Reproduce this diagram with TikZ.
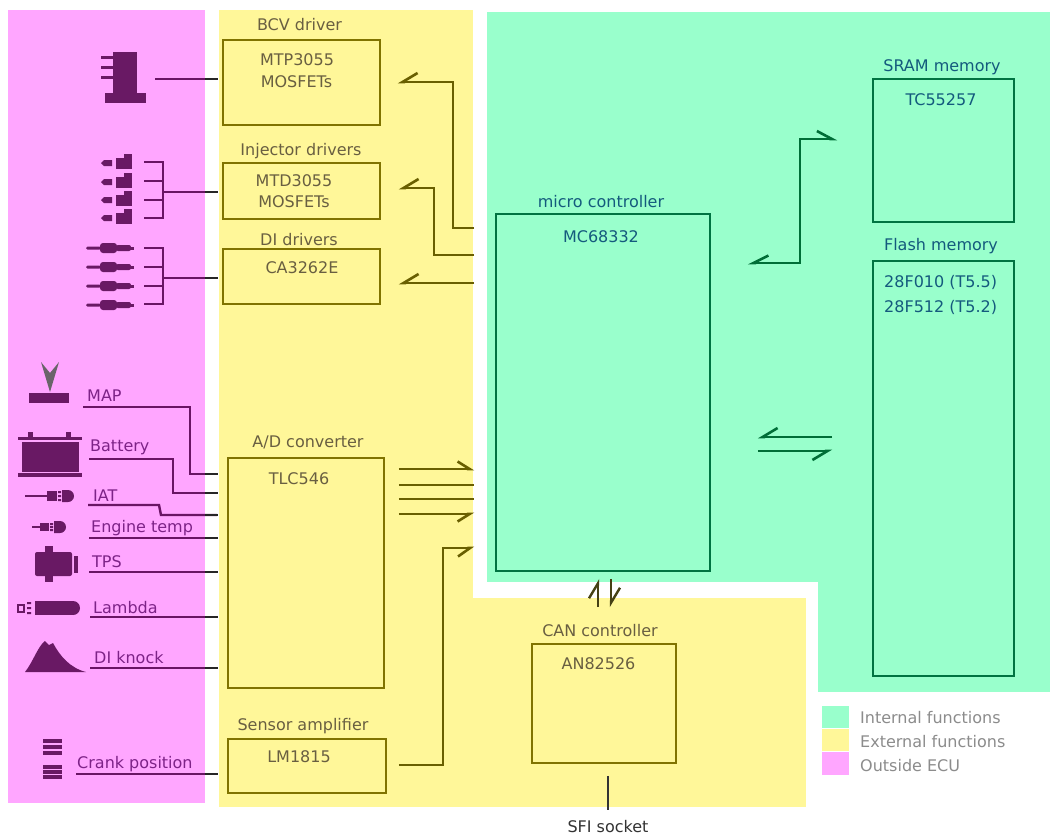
\documentclass[tikz,border=0pt]{standalone}
\usepackage{fontspec}
\setmainfont{DejaVu Sans}
\usetikzlibrary{arrows.meta}
\definecolor{pinkbg}{RGB}{255,166,255}
\definecolor{yellowbg}{RGB}{255,247,153}
\definecolor{greenbg}{RGB}{153,255,204}
\definecolor{boxolive}{RGB}{128,115,0}
\definecolor{lineolive}{RGB}{105,95,0}
\definecolor{boxgreen}{RGB}{0,115,65}
\definecolor{linegreen}{RGB}{0,110,55}
\definecolor{ytextc}{RGB}{105,95,65}
\definecolor{gtextc}{RGB}{20,90,125}
\definecolor{ptextc}{RGB}{125,35,135}
\definecolor{plinec}{RGB}{105,20,100}
\definecolor{iconc}{RGB}{105,25,100}
\definecolor{legendgray}{RGB}{140,140,140}
\definecolor{canline}{RGB}{70,65,20}
\definecolor{mapgray}{RGB}{105,100,105}
\tikzset{
  ybox/.style={draw=boxolive, line width=1.8pt, rectangle, inner sep=0pt},
  gbox/.style={draw=boxgreen, line width=1.8pt, rectangle, inner sep=0pt},
  ytext/.style={text=ytextc, anchor=base, inner sep=0pt},
  gtext/.style={text=gtextc, anchor=base, inner sep=0pt},
  ptext/.style={text=ptextc, anchor=base west, inner sep=0pt},
  ltext/.style={text=legendgray, anchor=base west, inner sep=0pt},
  yconn/.style={draw=lineolive, line width=2.6pt},
  gconn/.style={draw=linegreen, line width=2.6pt},
  cconn/.style={draw=canline, line width=2.4pt},
  pconn/.style={draw=plinec, line width=2.4pt},
  gapseg/.style={draw=black!85, line width=2.4pt},
  barbR/.style={-{Straight Barb[right,length=15pt,width=18pt]}},
  barbL/.style={-{Straight Barb[left,length=15pt,width=18pt]}},
}
\begin{document}
\begin{tikzpicture}[x=1pt,y=-1pt, font=\fontsize{16}{19}\selectfont]
\useasboundingbox (0,0) rectangle (1050,836);
\fill[white] (0,0) rectangle (1050,836);
% ---- regions
\fill[pinkbg] (8,10) rectangle (205,803);
\fill[yellowbg] (219,10) rectangle (473,807);
\fill[yellowbg] (219,598) rectangle (806,807);
\fill[greenbg] (487,12) rectangle (1050,582);
\fill[greenbg] (818,12) rectangle (1050,692);

% ---- yellow boxes
\node[ytext] (bcvT) at (299.5,30) {BCV driver};
\node[ybox, minimum width=157pt, minimum height=85pt] (bcv) at (301.5,82.5) {};
\node[ytext] at (297,65) {MTP3055};
\node[ytext] at (296.5,87) {MOSFETs};

\node[ytext] (injT) at (301,155) {Injector drivers};
\node[ybox, minimum width=157pt, minimum height=56pt] (inj) at (301.5,191) {};
\node[ytext] at (294,186) {MTD3055};
\node[ytext] at (294,207) {MOSFETs};

\node[ytext] (diT) at (299,245) {DI drivers};
\node[ybox, minimum width=157pt, minimum height=55pt] (di) at (301.5,276.5) {};
\node[ytext] at (302,273) {CA3262E};

\node[ytext] (adT) at (308,447) {A/D converter};
\node[ybox, minimum width=156pt, minimum height=230pt] (ad) at (306,573) {};
\node[ytext] at (299,484) {TLC546};

\node[ytext] (ampT) at (303,730) {Sensor amplifier};
\node[ybox, minimum width=158pt, minimum height=54pt] (amp) at (307,766) {};
\node[ytext] at (299,762) {LM1815};

\node[ytext] (canT) at (600,636) {CAN controller};
\node[ybox, minimum width=144pt, minimum height=119pt] (can) at (604,703.5) {};
\node[ytext] at (598.5,669) {AN82526};

\node[text=black!80, anchor=base, inner sep=0pt] (sfi) at (608,832) {SFI socket};

% ---- green boxes
\node[gtext] (mcT) at (601,207) {micro controller};
\node[gbox, minimum width=214pt, minimum height=357pt] (mc) at (603,392.5) {};
\node[gtext] at (601,242) {MC68332};

\node[gtext] (sramT) at (942,71) {SRAM memory};
\node[gbox, minimum width=141pt, minimum height=143pt] (sram) at (943.5,150.5) {};
\node[gtext] at (941,105) {TC55257};

\node[gtext] (flashT) at (941,250) {Flash memory};
\node[gbox, minimum width=141pt, minimum height=415pt] (flash) at (943.5,468.5) {};
\node[gtext, anchor=base west] at (884,287) {28F010 (T5.5)};
\node[gtext, anchor=base west] at (884,312) {28F512 (T5.2)};

% ---- micro controller -> drivers
\draw[yconn, barbR, shorten <=21pt, shorten >=17pt] (mc.west |- 0,228) -| (453,82) -- (bcv.east |- 0,82);
\draw[yconn, barbR, shorten <=21pt, shorten >=18pt] (mc.west |- 0,255) -| (434,188) -- (inj.east |- 0,188);
\draw[yconn, barbR, shorten <=21pt, shorten >=18pt] (mc.west |- 0,283) -- (di.east |- 0,283);

% ---- A/D -> micro controller
\draw[yconn, -{Straight Barb[left,length=12pt,width=15pt]}, shorten <=14pt, shorten >=21pt] (ad.east |- 0,469) -- (mc.west |- 0,469);
\draw[yconn, shorten <=14pt, shorten >=21pt] (ad.east |- 0,485) -- (mc.west |- 0,485);
\draw[yconn, shorten <=14pt, shorten >=21pt] (ad.east |- 0,499) -- (mc.west |- 0,499);
\draw[yconn, -{Straight Barb[right,length=12pt,width=15pt]}, shorten <=14pt, shorten >=21pt] (ad.east |- 0,514) -- (mc.west |- 0,514);

% ---- sensor amplifier -> micro controller
\draw[yconn, -{Straight Barb[right,length=12pt,width=17pt]}, shorten <=12pt, shorten >=21pt] (amp.east |- 0,765) -| (443,548) -- (mc.west |- 0,548);

% ---- micro controller <-> SRAM
\draw[gconn, {Straight Barb[right,length=15pt,width=15pt]}-{Straight Barb[left,length=15pt,width=16pt]}, shorten <=37pt, shorten >=35pt] (mc.east |- 0,263) -| (800,139) -- (sram.west |- 0,139);

% ---- micro controller <-> Flash
\draw[gconn, barbR, shorten <=40pt, shorten >=47pt] (flash.west |- 0,437) -- (mc.east |- 0,437);
\draw[gconn, barbR, shorten <=47pt, shorten >=40pt] (mc.east |- 0,451) -- (flash.west |- 0,451);

% ---- micro controller <-> CAN
\draw[cconn, -{Straight Barb[left,length=15pt,width=18pt]}, shorten <=36pt, shorten >=7pt] (can.north -| 598,0) -- (mc.south -| 598,0);
\draw[cconn, -{Straight Barb[left,length=15pt,width=18pt]}, shorten <=7pt, shorten >=36pt] (mc.south -| 611,0) -- (can.north -| 611,0);

% ---- CAN -> SFI socket
\draw[draw=black!80, line width=2pt, shorten <=12pt, shorten >=10pt] (can.south -| sfi.north) -- (sfi.north);

% ---- left side connectors
\coordinate (bcvI) at (155,79);
\coordinate (injB) at (163,192);
\coordinate (diB) at (163,278);
\coordinate (mapS) at (83,407);
\coordinate (batS) at (89,459);
\coordinate (iatS) at (88,505);
\coordinate (engS) at (89,538);
\coordinate (tpsS) at (89,572);
\coordinate (lamS) at (90,617);
\coordinate (dikS) at (90,668);
\coordinate (crkS) at (76,774);

\draw[pconn, shorten >=5pt] (bcvI) -- (bcv.west |- bcvI);
\draw[pconn, shorten >=5pt] (injB) -- (inj.west |- injB);
\draw[pconn, shorten >=5pt] (diB) -- (di.west |- diB);
\draw[pconn] (144,162) -| (163,218) -- (144,218);
\draw[pconn] (144,181) -- (163,181) (144,200) -- (163,200);
\draw[pconn] (144,248) -| (163,304) -- (144,304);
\draw[pconn] (144,267) -- (163,267) (144,286) -- (163,286);

\draw[pconn, shorten >=10pt] (mapS) -| (190,474) -- (ad.west |- 0,474);
\draw[pconn, shorten >=10pt] (batS) -| (173,493) -- (ad.west |- 0,493);
\draw[pconn, shorten >=10pt] (iatS) -- (159,505) -- (161,515) -- (ad.west |- 0,515);
\draw[pconn, shorten >=10pt] (engS) -- (ad.west |- engS);
\draw[pconn, shorten >=10pt] (tpsS) -- (ad.west |- tpsS);
\draw[pconn, shorten >=10pt] (lamS) -- (ad.west |- lamS);
\draw[pconn, shorten >=10pt] (dikS) -- (ad.west |- dikS);
\draw[pconn, shorten >=10pt] (crkS) -- (amp.west |- crkS);
\foreach \yy in {79,192,278,474,493,515,538,572,617,668,774}
  \draw[gapseg] (205,\yy) -- (218,\yy);

% ---- left labels
\node[ptext] (mapL) at (87,401) {MAP};
\node[ptext] (batL) at (90,451) {Battery};
\node[ptext] (iatL) at (93,501) {IAT};
\node[ptext] (engL) at (91,532) {Engine temp};
\node[ptext] (tpsL) at (92,567) {TPS};
\node[ptext] (lamL) at (93,613) {Lambda};
\node[ptext] (dikL) at (94,663) {DI knock};
\node[ptext] (crkL) at (77,768) {Crank position};

% ---- icons
\begin{scope}[iconc]
% BCV valve
\fill (113,52) rectangle (137,93);
\fill (105,93) rectangle (146,103);
\fill (101,56) rectangle (113,59);
\fill (101,66) rectangle (113,69);
\fill (101,76) rectangle (113,79);
% injectors
\foreach \yc in {163,182,200,218}{
  \fill (101,\yc) -- (104,\yc-3) -- (112,\yc-3) -- (112,\yc+3) -- (104,\yc+3) -- cycle;
  \fill (116,\yc-5) rectangle (132,\yc+6);
  \fill (124,\yc-9) rectangle (132,\yc-5);
}
% spark plugs
\foreach \yc in {248,267,286,305}{
  \fill[rounded corners=1.5pt] (86,\yc-1.5) rectangle (101,\yc+1.5);
  \fill[rounded corners=3pt] (100,\yc-5) rectangle (117,\yc+5);
  \fill[rounded corners=2pt] (116,\yc-3) rectangle (131,\yc+3);
  \fill (130,\yc-1.5) rectangle (134,\yc+1.5);
}
% battery
\fill (28,432) rectangle (33,437);
\fill (66,432) rectangle (71,437);
\fill (18,437) rectangle (82,440);
\fill (22,442) rectangle (79,472);
\fill (18,473) rectangle (82,477);
% MAP bar
\fill (29,393) rectangle (69,403);
% IAT sensor
\draw[line width=1.6pt] (25,496) -- (48,496);
\fill (47,491) rectangle (57,501);
\fill (58,491) rectangle (61,493) (58,495) rectangle (61,497) (58,499) rectangle (61,501);
\fill (62,490) -- (68,490) arc[start angle=-90, end angle=90, radius=6] -- (62,502) -- cycle;
% Engine temp sensor
\draw[line width=1.6pt] (32,527) -- (41,527);
\fill (40,523) rectangle (49,531);
\fill (50,523) rectangle (53,525) (50,526) rectangle (53,528) (50,529) rectangle (53,531);
\fill (54,521) -- (60,521) arc[start angle=-90, end angle=90, radius=6] -- (54,533) -- cycle;
% TPS
\fill[rounded corners=2pt] (35,552) rectangle (72,576);
\fill (45,546) rectangle (53,552);
\fill (45,576) rectangle (53,582);
\fill (74,556) rectangle (78,573);
% Lambda
\draw[line width=1.6pt] (18,605) rectangle (24,612);
\fill (27,602) rectangle (31,604) (27,607) rectangle (31,609) (27,612) rectangle (31,614);
\fill (35,601) rectangle (74,615);
\fill (73,601) arc[start angle=-90, end angle=90, radius=7] -- cycle;
% DI knock
\fill (25,672) .. controls (33,662) and (38,646) .. (45,641) -- (49,645) -- (53,643) .. controls (60,656) and (70,668) .. (86,672) -- cycle;
% Crank
\foreach \yc in {741,747,753,767,772,777}
  \fill (43,\yc-1.6) rectangle (62,\yc+1.6);
\end{scope}
% MAP arrowhead
\fill[mapgray] (41,362) -- (50,373) -- (59,362) -- (50,392) -- cycle;

% ---- legend
\fill[greenbg] (822,706) rectangle (849,728);
\fill[yellowbg] (822,729) rectangle (849,751);
\fill[pinkbg] (822,752) rectangle (849,775);
\node[ltext] at (860,723) {Internal functions};
\node[ltext] at (860,747) {External functions};
\node[ltext] at (860,771) {Outside ECU};
\end{tikzpicture}
\end{document}
